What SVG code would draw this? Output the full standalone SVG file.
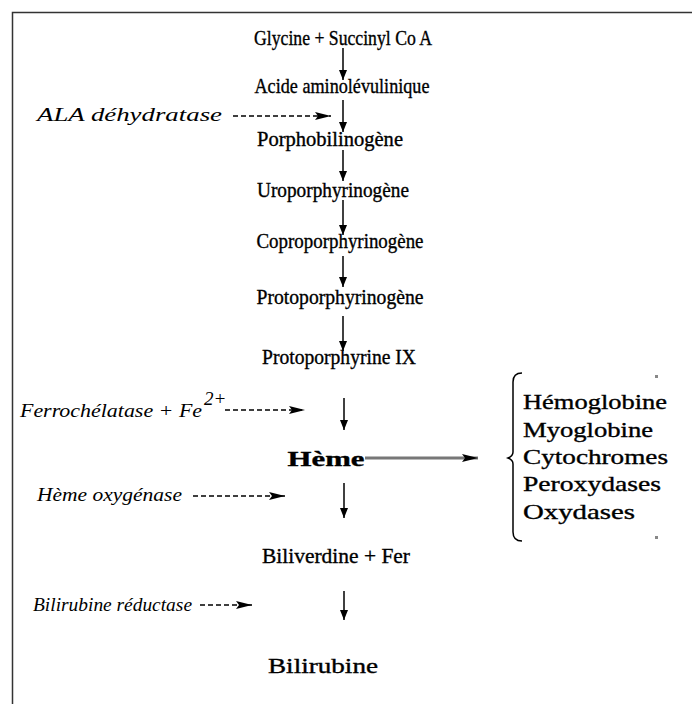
<svg xmlns="http://www.w3.org/2000/svg" width="692" height="704" viewBox="0 0 692 704">
<style>
.m{font-family:"Liberation Serif","Times New Roman",serif;font-size:21px;fill:#000;stroke:#000;stroke-width:0.35;text-anchor:middle}
.e{font-family:"Liberation Serif","Times New Roman",serif;font-size:19px;font-style:italic;fill:#000}
.l{font-family:"Liberation Serif","Times New Roman",serif;font-size:21px;fill:#000;stroke:#000;stroke-width:0.35}
.a{stroke:#000;stroke-width:1.5;fill:none}
.d{stroke:#000;stroke-width:1.5;stroke-dasharray:5,3;fill:none}
</style>
<defs>
<marker id="ah" viewBox="0 0 10 10" refX="10" refY="5" markerWidth="10" markerHeight="12" markerUnits="userSpaceOnUse" orient="auto">
<path d="M0,1 L10,5 L0,9 Z" fill="#000"/>
</marker>
<marker id="ahw" viewBox="0 0 16 10" refX="16" refY="5" markerWidth="16" markerHeight="10" markerUnits="userSpaceOnUse" orient="auto">
<path d="M0,1 L16,5 L0,9 L3,5 Z" fill="#000"/>
</marker>
</defs>
<rect width="692" height="704" fill="#fff"/>
<path d="M12.5,704 V12.5 H692" stroke="#333" stroke-width="1.5" fill="none"/>
<g id="connectors">
<line class="a" x1="343" y1="48" x2="343" y2="80" marker-end="url(#ah)"/>
<line class="a" x1="343" y1="100" x2="343" y2="132" marker-end="url(#ah)"/>
<line class="a" x1="343" y1="150" x2="343" y2="181" marker-end="url(#ah)"/>
<line class="a" x1="343" y1="200" x2="343" y2="235" marker-end="url(#ah)"/>
<line class="a" x1="343" y1="256" x2="343" y2="287" marker-end="url(#ah)"/>
<line class="a" x1="343" y1="316" x2="343" y2="351" marker-end="url(#ah)"/>
<line class="a" x1="344" y1="398" x2="344" y2="430" marker-end="url(#ah)"/>
<line class="a" x1="344" y1="483" x2="344" y2="518" marker-end="url(#ah)"/>
<line class="a" x1="344" y1="591" x2="344" y2="620" marker-end="url(#ah)"/>
<line class="d" x1="233" y1="116" x2="331" y2="116" marker-end="url(#ahw)"/>
<line class="d" x1="225" y1="410" x2="305" y2="410" stroke="#666" marker-end="url(#ahw)"/>
<line class="d" x1="193" y1="496" x2="285" y2="496" marker-end="url(#ahw)"/>
<line class="d" x1="200" y1="605" x2="252" y2="605" marker-end="url(#ahw)"/>
<line x1="365" y1="458" x2="478" y2="458" stroke="#777" stroke-width="3" marker-end="url(#ahw)"/>
<path d="M522,373 Q513,373 513,382 V452 Q513,456 508,458 Q513,460 513,464 V532 Q513,541 522,541" stroke="#000" stroke-width="1.5" fill="none"/>
<rect x="655" y="375" width="3" height="3" fill="#888"/>
<rect x="655" y="536" width="3" height="3" fill="#888"/>
</g>
<g id="n1"><text class="m" x="343" y="45" textLength="178" lengthAdjust="spacingAndGlyphs">Glycine + Succinyl Co A</text></g>
<g id="n2"><text class="m" x="342" y="93" textLength="175" lengthAdjust="spacingAndGlyphs">Acide aminolévulinique</text></g>
<g id="n3"><text class="m" x="330" y="146" textLength="146" lengthAdjust="spacingAndGlyphs">Porphobilinogène</text></g>
<g id="n4"><text class="m" x="333" y="197" textLength="152" lengthAdjust="spacingAndGlyphs">Uroporphyrinogène</text></g>
<g id="n5"><text class="m" x="340" y="248" textLength="167" lengthAdjust="spacingAndGlyphs">Coproporphyrinogène</text></g>
<g id="n6"><text class="m" x="340" y="304" textLength="167" lengthAdjust="spacingAndGlyphs">Protoporphyrinogène</text></g>
<g id="n7"><text class="m" x="339" y="364" textLength="154" lengthAdjust="spacingAndGlyphs">Protoporphyrine IX</text></g>
<g id="n8"><text class="m" x="326" y="466" font-size="24" font-weight="bold" textLength="77" lengthAdjust="spacingAndGlyphs">Hème</text></g>
<g id="n9"><text class="m" x="336" y="563" textLength="148" lengthAdjust="spacingAndGlyphs">Biliverdine + Fer</text></g>
<g id="n10"><text class="m" x="323" y="673" textLength="110" lengthAdjust="spacingAndGlyphs">Bilirubine</text></g>
<g id="e1"><text class="e" x="37" y="121" textLength="185" lengthAdjust="spacingAndGlyphs">ALA déhydratase</text></g>
<g id="e2"><text class="e" x="20" y="417" textLength="182" lengthAdjust="spacingAndGlyphs">Ferrochélatase + Fe</text><text class="e" x="204" y="405" font-size="12" font-style="normal">2+</text></g>
<g id="e3"><text class="e" x="37" y="501" textLength="145" lengthAdjust="spacingAndGlyphs">Hème oxygénase</text></g>
<g id="e4"><text class="e" x="33" y="611" textLength="159" lengthAdjust="spacingAndGlyphs">Bilirubine réductase</text></g>
<g id="list">
<text class="l" x="523" y="409" textLength="144" lengthAdjust="spacingAndGlyphs">Hémoglobine</text>
<text class="l" x="523" y="437" textLength="130" lengthAdjust="spacingAndGlyphs">Myoglobine</text>
<text class="l" x="523" y="464" textLength="145" lengthAdjust="spacingAndGlyphs">Cytochromes</text>
<text class="l" x="523" y="491" textLength="138" lengthAdjust="spacingAndGlyphs">Peroxydases</text>
<text class="l" x="523" y="519" textLength="112" lengthAdjust="spacingAndGlyphs">Oxydases</text>
</g>
</svg>
